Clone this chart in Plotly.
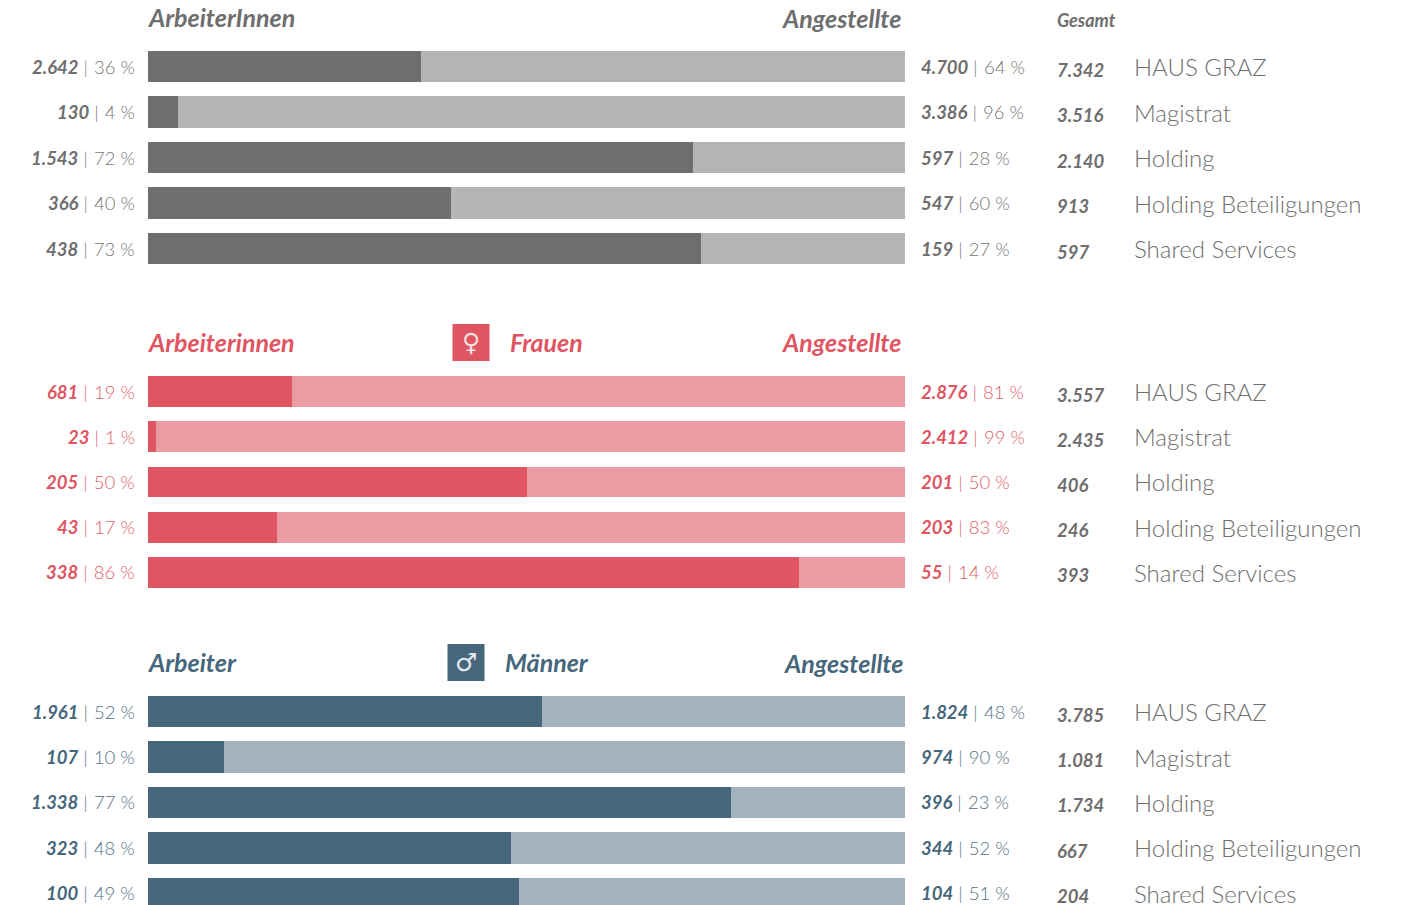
import plotly.graph_objects as go

W, H = 1404, 905
FONT = "Lato"

names = ["HAUS GRAZ", "Magistrat", "Holding", "Holding Beteiligungen", "Shared Services"]

all_workers = [2642, 130, 1543, 366, 438]
all_workers_pct = [36, 4, 72, 40, 73]
all_staff = [4700, 3386, 597, 547, 159]
all_staff_pct = [64, 96, 28, 60, 27]
all_total = [7342, 3516, 2140, 913, 597]

women_workers = [681, 23, 205, 43, 338]
women_workers_pct = [19, 1, 50, 17, 86]
women_staff = [2876, 2412, 201, 203, 55]
women_staff_pct = [81, 99, 50, 83, 14]
women_total = [3557, 2435, 406, 246, 393]

men_workers = [1961, 107, 1338, 323, 100]
men_workers_pct = [52, 10, 77, 48, 49]
men_staff = [1824, 974, 396, 344, 104]
men_staff_pct = [48, 90, 23, 52, 51]
men_total = [3785, 1081, 1734, 667, 204]

GREY_TEXT = "#6e6e6e"
panels = [
    dict(ax="y", top=43.75, bottom=271.25, rng=[4.5, -0.5], dark="#6e6e6e", light="#b5b5b5", text="#6e6e6e",
         pct_text="#777777", w=all_workers, wp=all_workers_pct, s=all_staff, sp=all_staff_pct, t=all_total),
    dict(ax="y2", top=368.9, bottom=595.1, rng=[4.5, -0.5], dark="#df5561", light="#eb9ca2", text="#df5561",
         pct_text="#e05f6a", w=women_workers, wp=women_workers_pct, s=women_staff, sp=women_staff_pct, t=women_total),
    dict(ax="y3", top=688.75, bottom=905, rng=[4.253, -0.5], dark="#46677b", light="#a2b3bd", text="#46677b",
         pct_text="#557386", w=men_workers, wp=men_workers_pct, s=men_staff, sp=men_staff_pct, t=men_total),
]


def px(x):
    return x / W


def py(y):
    return 1 - y / H


def num(v):
    return f"{v:,}".replace(",", ".")


def label(v, p, c, c2):
    return (f'<b><i><span style="color:{c}">{num(v)}</span></i></b>'
            f'<span style="color:{c2}"> |\u200a {p} %</span>')


fig = go.Figure()
ann = []


def note(text, x, y, size, color, anchor="left", yref="paper", yshift=0, family=FONT, weight=None):
    f = dict(family=family, size=size, color=color)
    if weight:
        f["weight"] = weight
    ann.append(dict(text=text, x=px(x), xref="paper", y=y, yref=yref, yshift=yshift,
                    xanchor=anchor, yanchor="middle", showarrow=False, font=f, align=anchor))


layout_axes = {}
for i, p in enumerate(panels):
    axis_key = "yaxis" + ("" if i == 0 else str(i + 1))
    layout_axes[axis_key] = dict(domain=[py(p["bottom"]), py(p["top"])], range=p["rng"], type="category",
                                 categoryorder="array", categoryarray=names, visible=False, fixedrange=True)
    fig.add_trace(go.Bar(y=names, x=p["wp"], orientation="h", yaxis=p["ax"], xaxis="x",
                         marker=dict(color=p["dark"], line_width=0), hoverinfo="skip", showlegend=False))
    fig.add_trace(go.Bar(y=names, x=p["sp"], orientation="h", yaxis=p["ax"], xaxis="x",
                         marker=dict(color=p["light"], line_width=0), hoverinfo="skip", showlegend=False))
    for j, n in enumerate(names):
        note(label(p["w"][j], p["wp"][j], p["text"], p["pct_text"]), 137, n, 18.5, p["text"], "right", p["ax"], 0, weight=300)
        note(label(p["s"][j], p["sp"][j], p["text"], p["pct_text"]), 919, n, 18.5, p["text"], "left", p["ax"], 0, weight=300)
        note(f"<b><i>{num(p['t'][j])}</i></b>", 1055, n, 18.5, GREY_TEXT, "left", p["ax"], -3)
        note(n, 1132, n, 24, "#6e6e6e", "left", p["ax"], 0, weight=300)


def head(text, x, y, color, anchor="left", size=25):
    note(f"<b><i>{text}</i></b>", x, py(y), size, color, anchor)


head("ArbeiterInnen", 146, 17, "#6e6e6e")
head("Angestellte", 903, 18, "#6e6e6e", "right")
head("Gesamt", 1055, 20.5, "#6e6e6e", size=18)
head("Arbeiterinnen", 146, 342, "#df5561")
head("Frauen", 508, 342, "#df5561")
head("Angestellte", 903, 342, "#df5561", "right")
head("Arbeiter", 146, 662, "#46677b")
head("Männer", 503, 662, "#46677b")
head("Angestellte", 905, 663, "#46677b", "right")

shapes = []
for x0, y0, c, sym in [(452.5, 324, "#df5561", "♀"), (447.5, 644, "#46677b", "♂")]:
    shapes.append(dict(type="rect", xref="paper", yref="paper", x0=px(x0), x1=px(x0 + 37),
                       y0=py(y0), y1=py(y0 + 37), fillcolor=c, line_width=0))
    note(sym, x0 + 18.5, py(y0 + 18.5), 25, "#f4dfe0" if c == "#df5561" else "#e3e9ed", "center", family="DejaVu Sans")

fig.update_layout(
    width=W, height=H, margin=dict(l=0, r=0, t=0, b=0),
    paper_bgcolor="white", plot_bgcolor="white",
    barmode="stack", bargap=0.315,
    xaxis=dict(domain=[px(148), px(905)], range=[0, 100], visible=False, fixedrange=True, anchor="free", position=0),
    annotations=ann, shapes=shapes, font=dict(family=FONT),
    **layout_axes,
)

fig.write_html("out.html", config={"displayModeBar": False},
               post_script="document.body.style.margin='0';document.body.style.overflow='hidden';")
